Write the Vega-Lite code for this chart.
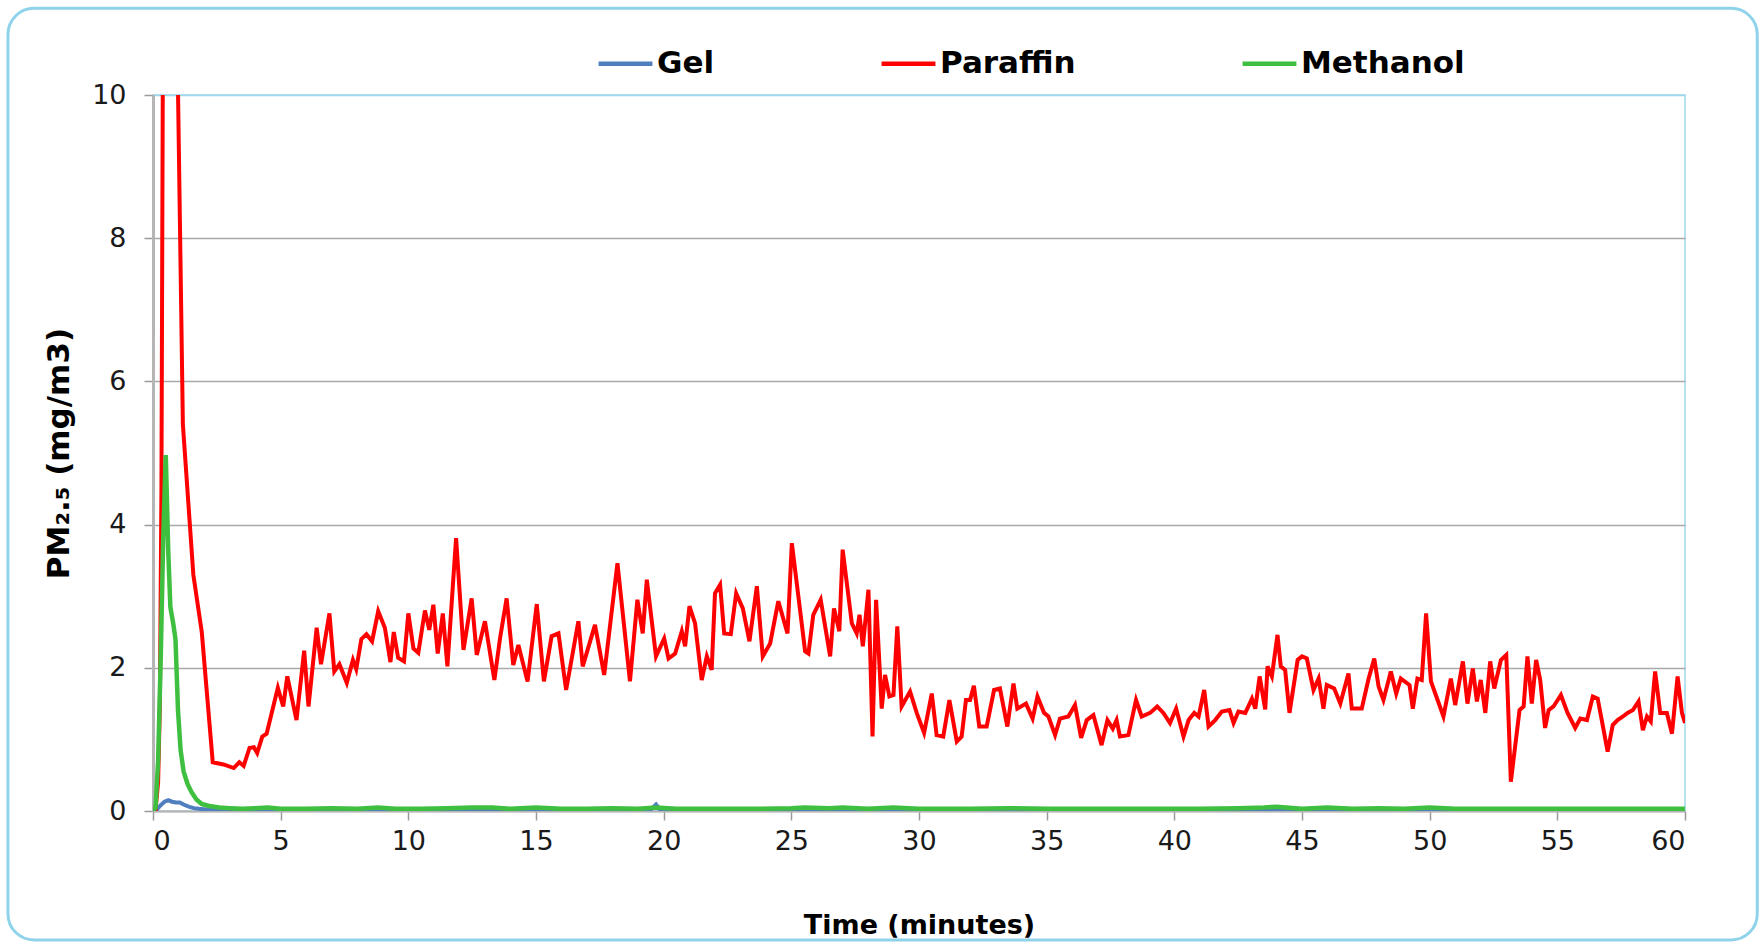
{
  "$schema": "https://vega.github.io/schema/vega-lite/v6.json",
  "autosize": {"type": "none"},
  "width": 1532,
  "height": 716,
  "padding": {"left": 153, "top": 95, "right": 79, "bottom": 133},
  "background": "white",
  "config": {
    "font": "DejaVu Sans",
    "view": {"stroke": "#9fd8ec", "strokeWidth": 1.5},
    "axis": {
      "labelFont": "DejaVu Sans",
      "titleFont": "DejaVu Sans",
      "labelColor": "#1a1a1a",
      "titleColor": "#000000",
      "titleFontWeight": "bold",
      "domainColor": "#b5b5b5",
      "tickColor": "#9a9a9a",
      "tickSize": 9,
      "tickWidth": 1.5,
      "labelFontSize": 27
    }
  },
  "datasets": {
    "gel": [
      {"time": 0, "pm": 0}, {"time": 0.15, "pm": 0.02}, {"time": 0.3, "pm": 0.08}, {"time": 0.45, "pm": 0.13},
      {"time": 0.6, "pm": 0.15}, {"time": 0.75, "pm": 0.13}, {"time": 0.9, "pm": 0.12}, {"time": 1.05, "pm": 0.12},
      {"time": 1.2, "pm": 0.09}, {"time": 1.4, "pm": 0.06}, {"time": 1.6, "pm": 0.04}, {"time": 1.8, "pm": 0.03},
      {"time": 2.1, "pm": 0.02}, {"time": 3, "pm": 0.02}, {"time": 5, "pm": 0.01}, {"time": 8, "pm": 0.02},
      {"time": 11, "pm": 0.01}, {"time": 14, "pm": 0.02}, {"time": 17, "pm": 0.01}, {"time": 19.5, "pm": 0.02},
      {"time": 19.7, "pm": 0.09}, {"time": 19.85, "pm": 0.02}, {"time": 22, "pm": 0.01}, {"time": 26, "pm": 0.02},
      {"time": 30, "pm": 0.01}, {"time": 35, "pm": 0.01}, {"time": 40, "pm": 0.02}, {"time": 45, "pm": 0.01},
      {"time": 50, "pm": 0.02}, {"time": 55, "pm": 0.01}, {"time": 60, "pm": 0.01}
    ],
    "paraffin": [
      {"time": 0, "pm": 0}, {"time": 0.1, "pm": 0.02}, {"time": 0.2, "pm": 0.4}, {"time": 0.27, "pm": 1.5},
      {"time": 0.33, "pm": 4.5}, {"time": 0.42, "pm": 14}, {"time": 0.6, "pm": 22}, {"time": 0.8, "pm": 20},
      {"time": 0.92, "pm": 11.5}, {"time": 1.17, "pm": 5.4}, {"time": 1.58, "pm": 3.3}, {"time": 1.91, "pm": 2.5},
      {"time": 2.34, "pm": 0.68}, {"time": 2.76, "pm": 0.65}, {"time": 3.16, "pm": 0.6}, {"time": 3.38, "pm": 0.68},
      {"time": 3.55, "pm": 0.63}, {"time": 3.78, "pm": 0.88}, {"time": 3.95, "pm": 0.89}, {"time": 4.08, "pm": 0.81},
      {"time": 4.28, "pm": 1.04}, {"time": 4.45, "pm": 1.08}, {"time": 4.67, "pm": 1.4}, {"time": 4.89, "pm": 1.72},
      {"time": 5.1, "pm": 1.46}, {"time": 5.26, "pm": 1.88}, {"time": 5.62, "pm": 1.27}, {"time": 5.92, "pm": 2.24},
      {"time": 6.09, "pm": 1.46}, {"time": 6.41, "pm": 2.56}, {"time": 6.58, "pm": 2.05}, {"time": 6.91, "pm": 2.76},
      {"time": 7.1, "pm": 1.95}, {"time": 7.3, "pm": 2.05}, {"time": 7.59, "pm": 1.79}, {"time": 7.83, "pm": 2.11},
      {"time": 7.96, "pm": 1.98}, {"time": 8.16, "pm": 2.4}, {"time": 8.36, "pm": 2.47}, {"time": 8.58, "pm": 2.37},
      {"time": 8.82, "pm": 2.79}, {"time": 9.08, "pm": 2.56}, {"time": 9.3, "pm": 2.08}, {"time": 9.43, "pm": 2.5},
      {"time": 9.6, "pm": 2.14}, {"time": 9.83, "pm": 2.09}, {"time": 10.0, "pm": 2.76}, {"time": 10.2, "pm": 2.27},
      {"time": 10.39, "pm": 2.21}, {"time": 10.65, "pm": 2.8}, {"time": 10.82, "pm": 2.53}, {"time": 10.98, "pm": 2.88},
      {"time": 11.15, "pm": 2.2}, {"time": 11.35, "pm": 2.76}, {"time": 11.53, "pm": 2.02}, {"time": 11.87, "pm": 3.81},
      {"time": 12.16, "pm": 2.25}, {"time": 12.48, "pm": 2.97}, {"time": 12.68, "pm": 2.18}, {"time": 13.0, "pm": 2.65},
      {"time": 13.37, "pm": 1.83}, {"time": 13.59, "pm": 2.41}, {"time": 13.85, "pm": 2.97}, {"time": 14.11, "pm": 2.04},
      {"time": 14.31, "pm": 2.32}, {"time": 14.67, "pm": 1.81}, {"time": 15.03, "pm": 2.89}, {"time": 15.31, "pm": 1.81},
      {"time": 15.61, "pm": 2.44}, {"time": 15.88, "pm": 2.48}, {"time": 16.18, "pm": 1.69}, {"time": 16.66, "pm": 2.65},
      {"time": 16.83, "pm": 2.02}, {"time": 17.31, "pm": 2.6}, {"time": 17.67, "pm": 1.9}, {"time": 18.19, "pm": 3.46},
      {"time": 18.68, "pm": 1.81}, {"time": 18.97, "pm": 2.95}, {"time": 19.18, "pm": 2.48}, {"time": 19.34, "pm": 3.23},
      {"time": 19.7, "pm": 2.16}, {"time": 20.02, "pm": 2.41}, {"time": 20.19, "pm": 2.13}, {"time": 20.45, "pm": 2.2},
      {"time": 20.71, "pm": 2.51}, {"time": 20.84, "pm": 2.3}, {"time": 21.01, "pm": 2.86}, {"time": 21.23, "pm": 2.62},
      {"time": 21.49, "pm": 1.83}, {"time": 21.69, "pm": 2.16}, {"time": 21.88, "pm": 1.97}, {"time": 22.01, "pm": 3.04},
      {"time": 22.21, "pm": 3.16}, {"time": 22.37, "pm": 2.48}, {"time": 22.63, "pm": 2.47}, {"time": 22.84, "pm": 3.04},
      {"time": 23.1, "pm": 2.83}, {"time": 23.36, "pm": 2.37}, {"time": 23.65, "pm": 3.14}, {"time": 23.88, "pm": 2.16},
      {"time": 24.17, "pm": 2.34}, {"time": 24.49, "pm": 2.93}, {"time": 24.85, "pm": 2.48}, {"time": 25.02, "pm": 3.74},
      {"time": 25.54, "pm": 2.23}, {"time": 25.67, "pm": 2.2}, {"time": 25.86, "pm": 2.74}, {"time": 26.15, "pm": 2.95},
      {"time": 26.52, "pm": 2.16}, {"time": 26.67, "pm": 2.83}, {"time": 26.88, "pm": 2.51}, {"time": 27.01, "pm": 3.65},
      {"time": 27.37, "pm": 2.62}, {"time": 27.56, "pm": 2.48}, {"time": 27.67, "pm": 2.74}, {"time": 27.8, "pm": 2.3},
      {"time": 28.02, "pm": 3.09}, {"time": 28.18, "pm": 1.04}, {"time": 28.32, "pm": 2.95}, {"time": 28.54, "pm": 1.43},
      {"time": 28.67, "pm": 1.9}, {"time": 28.84, "pm": 1.6}, {"time": 29.0, "pm": 1.62}, {"time": 29.15, "pm": 2.58},
      {"time": 29.32, "pm": 1.46}, {"time": 29.65, "pm": 1.67}, {"time": 29.91, "pm": 1.37}, {"time": 30.2, "pm": 1.09},
      {"time": 30.5, "pm": 1.64}, {"time": 30.69, "pm": 1.06}, {"time": 30.95, "pm": 1.04}, {"time": 31.19, "pm": 1.55},
      {"time": 31.48, "pm": 0.97}, {"time": 31.67, "pm": 1.04}, {"time": 31.84, "pm": 1.55}, {"time": 32.0, "pm": 1.55},
      {"time": 32.15, "pm": 1.75}, {"time": 32.36, "pm": 1.18}, {"time": 32.65, "pm": 1.18}, {"time": 32.94, "pm": 1.69},
      {"time": 33.17, "pm": 1.71}, {"time": 33.46, "pm": 1.18}, {"time": 33.7, "pm": 1.78}, {"time": 33.85, "pm": 1.43},
      {"time": 34.19, "pm": 1.5}, {"time": 34.45, "pm": 1.29}, {"time": 34.64, "pm": 1.6}, {"time": 34.9, "pm": 1.37},
      {"time": 35.07, "pm": 1.32}, {"time": 35.33, "pm": 1.06}, {"time": 35.52, "pm": 1.29}, {"time": 35.85, "pm": 1.32},
      {"time": 36.11, "pm": 1.48}, {"time": 36.35, "pm": 1.02}, {"time": 36.57, "pm": 1.27}, {"time": 36.83, "pm": 1.34},
      {"time": 37.15, "pm": 0.92}, {"time": 37.38, "pm": 1.27}, {"time": 37.59, "pm": 1.15}, {"time": 37.74, "pm": 1.27},
      {"time": 37.87, "pm": 1.04}, {"time": 38.2, "pm": 1.06}, {"time": 38.5, "pm": 1.55}, {"time": 38.72, "pm": 1.32},
      {"time": 39.05, "pm": 1.37}, {"time": 39.33, "pm": 1.46}, {"time": 39.57, "pm": 1.37}, {"time": 39.83, "pm": 1.23},
      {"time": 40.07, "pm": 1.43}, {"time": 40.36, "pm": 1.04}, {"time": 40.56, "pm": 1.27}, {"time": 40.78, "pm": 1.37},
      {"time": 40.95, "pm": 1.32}, {"time": 41.17, "pm": 1.69}, {"time": 41.34, "pm": 1.18}, {"time": 41.6, "pm": 1.27},
      {"time": 41.86, "pm": 1.39}, {"time": 42.16, "pm": 1.41}, {"time": 42.32, "pm": 1.23}, {"time": 42.51, "pm": 1.39},
      {"time": 42.78, "pm": 1.37}, {"time": 43.04, "pm": 1.57}, {"time": 43.17, "pm": 1.43}, {"time": 43.34, "pm": 1.88},
      {"time": 43.56, "pm": 1.42}, {"time": 43.65, "pm": 2.02}, {"time": 43.82, "pm": 1.88}, {"time": 44.04, "pm": 2.46},
      {"time": 44.17, "pm": 2.02}, {"time": 44.34, "pm": 1.97}, {"time": 44.51, "pm": 1.37}, {"time": 44.83, "pm": 2.11},
      {"time": 45.0, "pm": 2.16}, {"time": 45.19, "pm": 2.13}, {"time": 45.45, "pm": 1.69}, {"time": 45.65, "pm": 1.85},
      {"time": 45.84, "pm": 1.43}, {"time": 45.97, "pm": 1.76}, {"time": 46.26, "pm": 1.71}, {"time": 46.5, "pm": 1.5},
      {"time": 46.82, "pm": 1.92}, {"time": 46.95, "pm": 1.43}, {"time": 47.34, "pm": 1.43}, {"time": 47.61, "pm": 1.85},
      {"time": 47.83, "pm": 2.13}, {"time": 48.0, "pm": 1.74}, {"time": 48.19, "pm": 1.55}, {"time": 48.48, "pm": 1.95},
      {"time": 48.69, "pm": 1.64}, {"time": 48.87, "pm": 1.85}, {"time": 49.21, "pm": 1.76}, {"time": 49.34, "pm": 1.43},
      {"time": 49.52, "pm": 1.85}, {"time": 49.69, "pm": 1.83}, {"time": 49.86, "pm": 2.76}, {"time": 50.05, "pm": 1.81},
      {"time": 50.31, "pm": 1.55}, {"time": 50.54, "pm": 1.32}, {"time": 50.83, "pm": 1.85}, {"time": 51.0, "pm": 1.48},
      {"time": 51.3, "pm": 2.09}, {"time": 51.48, "pm": 1.5}, {"time": 51.69, "pm": 1.99}, {"time": 51.85, "pm": 1.53},
      {"time": 52.0, "pm": 1.83}, {"time": 52.18, "pm": 1.37}, {"time": 52.37, "pm": 2.09}, {"time": 52.53, "pm": 1.71},
      {"time": 52.79, "pm": 2.11}, {"time": 53.0, "pm": 2.18}, {"time": 53.18, "pm": 0.41}, {"time": 53.52, "pm": 1.41},
      {"time": 53.68, "pm": 1.46}, {"time": 53.83, "pm": 2.16}, {"time": 54.0, "pm": 1.5}, {"time": 54.17, "pm": 2.11},
      {"time": 54.33, "pm": 1.83}, {"time": 54.52, "pm": 1.16}, {"time": 54.66, "pm": 1.41}, {"time": 54.85, "pm": 1.46},
      {"time": 55.14, "pm": 1.62}, {"time": 55.4, "pm": 1.37}, {"time": 55.7, "pm": 1.16}, {"time": 55.9, "pm": 1.29},
      {"time": 56.16, "pm": 1.27}, {"time": 56.39, "pm": 1.6}, {"time": 56.58, "pm": 1.57}, {"time": 56.74, "pm": 1.27},
      {"time": 56.97, "pm": 0.83}, {"time": 57.17, "pm": 1.2}, {"time": 57.36, "pm": 1.27}, {"time": 57.57, "pm": 1.32},
      {"time": 57.75, "pm": 1.37}, {"time": 57.96, "pm": 1.41}, {"time": 58.18, "pm": 1.53}, {"time": 58.35, "pm": 1.13},
      {"time": 58.51, "pm": 1.32}, {"time": 58.66, "pm": 1.25}, {"time": 58.83, "pm": 1.95}, {"time": 59.03, "pm": 1.37},
      {"time": 59.29, "pm": 1.37}, {"time": 59.49, "pm": 1.08}, {"time": 59.71, "pm": 1.88}, {"time": 59.88, "pm": 1.37},
      {"time": 60.0, "pm": 1.23}
    ],
    "methanol": [
      {"time": 0, "pm": 0}, {"time": 0.1, "pm": 0.05}, {"time": 0.2, "pm": 0.7}, {"time": 0.3, "pm": 2.1},
      {"time": 0.4, "pm": 3.8}, {"time": 0.5, "pm": 4.97}, {"time": 0.6, "pm": 3.6}, {"time": 0.68, "pm": 2.85},
      {"time": 0.8, "pm": 2.6}, {"time": 0.88, "pm": 2.4}, {"time": 0.98, "pm": 1.4}, {"time": 1.08, "pm": 0.85},
      {"time": 1.2, "pm": 0.55}, {"time": 1.35, "pm": 0.38}, {"time": 1.5, "pm": 0.27}, {"time": 1.7, "pm": 0.16},
      {"time": 1.9, "pm": 0.1}, {"time": 2.2, "pm": 0.07}, {"time": 2.6, "pm": 0.05}, {"time": 3, "pm": 0.04},
      {"time": 3.5, "pm": 0.03}, {"time": 4, "pm": 0.04}, {"time": 4.5, "pm": 0.05}, {"time": 5, "pm": 0.03},
      {"time": 6, "pm": 0.03}, {"time": 7, "pm": 0.04}, {"time": 8, "pm": 0.03}, {"time": 8.8, "pm": 0.05},
      {"time": 9.5, "pm": 0.03}, {"time": 10.5, "pm": 0.03}, {"time": 11.5, "pm": 0.04}, {"time": 12.5, "pm": 0.05},
      {"time": 13.3, "pm": 0.05}, {"time": 14, "pm": 0.03}, {"time": 15, "pm": 0.05}, {"time": 16, "pm": 0.03},
      {"time": 17, "pm": 0.03}, {"time": 18, "pm": 0.04}, {"time": 19, "pm": 0.03}, {"time": 19.7, "pm": 0.05},
      {"time": 20.5, "pm": 0.03}, {"time": 22, "pm": 0.03}, {"time": 23.5, "pm": 0.03}, {"time": 25, "pm": 0.04},
      {"time": 25.5, "pm": 0.05}, {"time": 26.5, "pm": 0.04}, {"time": 27, "pm": 0.05}, {"time": 28, "pm": 0.03},
      {"time": 29, "pm": 0.05}, {"time": 30, "pm": 0.03}, {"time": 32, "pm": 0.03}, {"time": 33.5, "pm": 0.04},
      {"time": 35, "pm": 0.03}, {"time": 37, "pm": 0.03}, {"time": 39, "pm": 0.03}, {"time": 41, "pm": 0.03},
      {"time": 42.5, "pm": 0.04}, {"time": 43.5, "pm": 0.05}, {"time": 44, "pm": 0.06}, {"time": 45, "pm": 0.03},
      {"time": 46, "pm": 0.05}, {"time": 47, "pm": 0.03}, {"time": 48, "pm": 0.04}, {"time": 49, "pm": 0.03},
      {"time": 50, "pm": 0.05}, {"time": 51, "pm": 0.03}, {"time": 53, "pm": 0.03}, {"time": 55, "pm": 0.03},
      {"time": 57, "pm": 0.03}, {"time": 60, "pm": 0.03}
    ]
  },
  "layer": [
    {
      "data": {"values": [{}]},
      "mark": {"type": "rect", "fillOpacity": 0, "stroke": "#8fd3ea", "strokeWidth": 3, "cornerRadius": 26, "clip": false},
      "encoding": {
        "x": {"datum": -5.68, "type": "quantitative", "scale": {"domain": [0, 60]}, "title": "Time (minutes)",
              "axis": {"values": [0,5,10,15,20,25,30,35,40,45,50,55,60], "grid": false, "labelPadding": 8, "titleFontSize": 27, "titlePadding": 58, "domainWidth": 2}},
        "x2": {"datum": 62.83},
        "y": {"datum": 11.21, "type": "quantitative", "scale": {"domain": [0, 10]}, "title": "PM₂.₅ (mg/m3)",
              "axis": {"values": [0,2,4,6,8,10], "grid": true, "gridWidth": 1.5, "gridColor": {"condition": {"test": "datum.value === 10", "value": "#9fd8ec"}, "value": "#a9a9a9"}, "labelPadding": 18, "titleFontSize": 31, "titlePadding": 16, "domainWidth": 3}},
        "y2": {"datum": -1.8}
      }
    },
    {
      "data": {"name": "gel"},
      "mark": {"type": "line", "strokeWidth": 4, "clip": true},
      "encoding": {
        "x": {"field": "time", "type": "quantitative", "scale": {"domain": [0, 60]}, "title": "Time (minutes)",
              "axis": {"values": [0,5,10,15,20,25,30,35,40,45,50,55,60], "grid": false, "labelPadding": 8, "titleFontSize": 27, "titlePadding": 58, "domainWidth": 2}},
        "y": {"field": "pm", "type": "quantitative", "scale": {"domain": [0, 10]}, "title": "PM₂.₅ (mg/m3)",
              "axis": {"values": [0,2,4,6,8,10], "grid": true, "gridWidth": 1.5, "gridColor": {"condition": {"test": "datum.value === 10", "value": "#9fd8ec"}, "value": "#a9a9a9"}, "labelPadding": 18, "titleFontSize": 31, "titlePadding": 16, "domainWidth": 3}},
        "color": {"datum": "Gel", "type": "nominal",
                  "scale": {"domain": ["Gel", "Paraffin", "Methanol"], "range": ["#4f7fbf", "#ff0000", "#3fbf3f"]},
                  "legend": {"title": null, "orient": "none", "legendX": 443, "legendY": -61, "direction": "horizontal", "symbolType": "stroke", "symbolSize": 2900, "symbolStrokeWidth": 4.5, "labelFontSize": 31, "labelFontWeight": "bold", "labelColor": "#000000", "labelFont": "DejaVu Sans", "labelOffset": 2, "labelLimit": 0, "columnPadding": 157}}
      }
    },
    {
      "data": {"name": "paraffin"},
      "mark": {"type": "line", "strokeWidth": 4, "clip": true},
      "encoding": {
        "x": {"field": "time", "type": "quantitative", "scale": {"domain": [0, 60]}, "title": "Time (minutes)",
              "axis": {"values": [0,5,10,15,20,25,30,35,40,45,50,55,60], "grid": false, "labelPadding": 8, "titleFontSize": 27, "titlePadding": 58, "domainWidth": 2}},
        "y": {"field": "pm", "type": "quantitative", "scale": {"domain": [0, 10]}, "title": "PM₂.₅ (mg/m3)",
              "axis": {"values": [0,2,4,6,8,10], "grid": true, "gridWidth": 1.5, "gridColor": {"condition": {"test": "datum.value === 10", "value": "#9fd8ec"}, "value": "#a9a9a9"}, "labelPadding": 18, "titleFontSize": 31, "titlePadding": 16, "domainWidth": 3}},
        "color": {"datum": "Paraffin", "type": "nominal",
                  "scale": {"domain": ["Gel", "Paraffin", "Methanol"], "range": ["#4f7fbf", "#ff0000", "#3fbf3f"]},
                  "legend": {"title": null, "orient": "none", "legendX": 443, "legendY": -61, "direction": "horizontal", "symbolType": "stroke", "symbolSize": 2900, "symbolStrokeWidth": 4.5, "labelFontSize": 31, "labelFontWeight": "bold", "labelColor": "#000000", "labelFont": "DejaVu Sans", "labelOffset": 2, "labelLimit": 0, "columnPadding": 157}}
      }
    },
    {
      "data": {"name": "methanol"},
      "mark": {"type": "line", "strokeWidth": 4.5, "clip": true},
      "encoding": {
        "x": {"field": "time", "type": "quantitative", "scale": {"domain": [0, 60]}, "title": "Time (minutes)",
              "axis": {"values": [0,5,10,15,20,25,30,35,40,45,50,55,60], "grid": false, "labelPadding": 8, "titleFontSize": 27, "titlePadding": 58, "domainWidth": 2}},
        "y": {"field": "pm", "type": "quantitative", "scale": {"domain": [0, 10]}, "title": "PM₂.₅ (mg/m3)",
              "axis": {"values": [0,2,4,6,8,10], "grid": true, "gridWidth": 1.5, "gridColor": {"condition": {"test": "datum.value === 10", "value": "#9fd8ec"}, "value": "#a9a9a9"}, "labelPadding": 18, "titleFontSize": 31, "titlePadding": 16, "domainWidth": 3}},
        "color": {"datum": "Methanol", "type": "nominal",
                  "scale": {"domain": ["Gel", "Paraffin", "Methanol"], "range": ["#4f7fbf", "#ff0000", "#3fbf3f"]},
                  "legend": {"title": null, "orient": "none", "legendX": 443, "legendY": -61, "direction": "horizontal", "symbolType": "stroke", "symbolSize": 2900, "symbolStrokeWidth": 4.5, "labelFontSize": 31, "labelFontWeight": "bold", "labelColor": "#000000", "labelFont": "DejaVu Sans", "labelOffset": 2, "labelLimit": 0, "columnPadding": 157}}
      }
    }
  ]
}
